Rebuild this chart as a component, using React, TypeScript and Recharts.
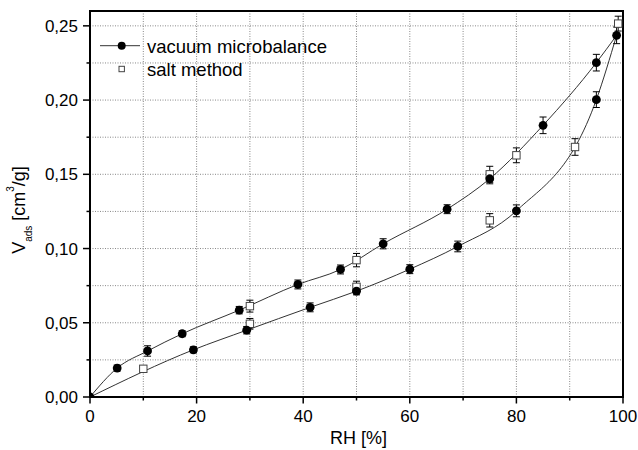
import React from 'react';
import { ComposedChart, XAxis, YAxis, CartesianGrid, Line, Scatter, ErrorBar, ReferenceArea, Legend } from 'recharts';

// Desorption branch (upper curve), vacuum microbalance
const upperRH = [0, 5.1, 10.8, 17.3, 28.0, 39.0, 47.0, 55.0, 67.0, 75.0, 85.0, 95.0, 98.8];
const upperV = [0, 0.0195, 0.031, 0.0426, 0.0585, 0.0758, 0.0859, 0.1032, 0.1265, 0.147, 0.183, 0.2252, 0.2436];
const upperErr = [0, 0.002, 0.0035, 0.002, 0.0025, 0.003, 0.003, 0.0034, 0.003, 0.0034, 0.0056, 0.0056, 0.0056];

// Adsorption branch (lower curve), vacuum microbalance
const lowerRH = [0, 19.4, 29.4, 41.3, 50.0, 60.0, 69.0, 80.0, 95.0, 98.8];
const lowerV = [0, 0.0318, 0.045, 0.0604, 0.0713, 0.0861, 0.1014, 0.1254, 0.2003, 0.2436];
const lowerErr = [0, 0.002, 0.0025, 0.003, 0.0025, 0.003, 0.0036, 0.004, 0.0053, 0.0056];

// Salt method
const saltRH = [10, 30, 30, 50, 50, 75, 75, 80, 91, 99.1];
const saltV = [0.019, 0.0612, 0.0493, 0.0922, 0.0742, 0.150, 0.119, 0.1628, 0.1684, 0.2515];
const saltErr = [0.002, 0.004, 0.0036, 0.0045, 0.0038, 0.0054, 0.0045, 0.005, 0.0056, 0.005];

const xTicks = [0, 10, 20, 30, 40, 50, 60, 70, 80, 90, 100];
const xMajor = [0, 20, 40, 60, 80, 100];
const yTicks = [0, 0.025, 0.05, 0.075, 0.1, 0.125, 0.15, 0.175, 0.2, 0.225, 0.25];
const yMajor = [0, 0.05, 0.1, 0.15, 0.2, 0.25];

const upperData = upperRH.map((x, i) => ({ x, y: upperV[i], err: upperErr[i] }));
const lowerData = lowerRH.map((x, i) => ({ x, y: lowerV[i], err: lowerErr[i] }));
const circleData = [...upperData, ...lowerData.slice(1, lowerData.length - 1)];
const saltData = saltRH.map((x, i) => ({ x, y: saltV[i], err: saltErr[i] }));

const FONT = '"Liberation Sans", Arial, sans-serif';
const PLOT_LEFT = 90;
const PLOT_BOTTOM = 397;

const isMajor = (v: number, list: number[]) => list.some((m) => Math.abs(m - v) < 1e-9);

const XTick = (props: any) => {
  const { payload } = props;
  const x = payload.coordinate;
  const major = isMajor(payload.value, xMajor);
  return (
    <g>
      <line x1={x} x2={x} y1={PLOT_BOTTOM} y2={PLOT_BOTTOM + (major ? 6.5 : 3.5)} stroke="#000" strokeWidth={1.5} />
      {major && (
        <text x={x} y={PLOT_BOTTOM + 25} textAnchor="middle" fontSize={17} fontFamily={FONT} fill="#000">
          {String(payload.value)}
        </text>
      )}
    </g>
  );
};

const YTick = (props: any) => {
  const { payload } = props;
  const y = payload.coordinate;
  const major = isMajor(payload.value, yMajor);
  return (
    <g>
      <line x1={PLOT_LEFT} x2={PLOT_LEFT - (major ? 7 : 3.5)} y1={y} y2={y} stroke="#000" strokeWidth={1.5} />
      {major && (
        <text x={78} y={y} dy="0.36em" textAnchor="end" fontSize={17} fontFamily={FONT} fill="#000">
          {payload.value.toFixed(2).replace('.', ',')}
        </text>
      )}
    </g>
  );
};

const Circle = (props: any) => <circle cx={props.cx} cy={props.cy} r={4.4} fill="#000" />;
const Square = (props: any) => (
  <rect x={props.cx - 3.7} y={props.cy - 3.7} width={7.4} height={7.4} fill="#fff" stroke="#444" strokeWidth={1} />
);

const YLabel = (props: any) => {
  const vb = props.viewBox || { x: 0, y: 11, width: 90, height: 386 };
  const cx = 25;
  const cy = vb.y + vb.height / 2 + 6;
  return (
    <text x={cx} y={cy} transform={`rotate(-90, ${cx}, ${cy})`} textAnchor="middle" fontSize={18} fontFamily={FONT} fill="#000">
      <tspan>V</tspan>
      <tspan dy={7} fontSize={10}>ads</tspan>
      <tspan dy={-7}> [cm</tspan>
      <tspan dy={-11} fontSize={10}>3</tspan>
      <tspan dy={11}>/g]</tspan>
    </text>
  );
};

const XLabel = (props: any) => {
  const vb = props.viewBox || { x: 90, y: 397, width: 533, height: 53 };
  return (
    <text x={vb.x + vb.width / 2 + 2} y={444} textAnchor="middle" fontSize={18} fontFamily={FONT} fill="#000">
      RH [%]
    </text>
  );
};

const LegendContent = () => (
  <svg width={260} height={60} style={{ display: 'block' }}>
    <line x1={10} x2={50} y1={15.7} y2={15.7} stroke="#333" strokeWidth={1} />
    <circle cx={31.7} cy={15.7} r={4} fill="#000" />
    <text x={57} y={22.5} fontSize={18.5} fontFamily={FONT} fill="#000">vacuum microbalance</text>
    <rect x={29} y={36.3} width={5.4} height={5.4} fill="#fff" stroke="#444" strokeWidth={1} />
    <text x={57} y={45.5} fontSize={18.5} fontFamily={FONT} fill="#000">salt method</text>
  </svg>
);

export default function App() {
  return (
    <div style={{ position: 'absolute', left: 0, top: 0, background: '#fff' }}>
      <ComposedChart width={638} height={450} margin={{ top: 11, right: 15, bottom: 0, left: 0 }} style={{ fontFamily: FONT }}>
        <CartesianGrid stroke="#888" strokeDasharray="1 1.5" strokeWidth={1} />
        <XAxis
          type="number"
          dataKey="x"
          domain={[0, 100]}
          ticks={xTicks}
          interval={0}
          height={53}
          tickLine={false}
          axisLine={{ stroke: '#000', strokeWidth: 2 }}
          tick={<XTick />}
          label={{ content: <XLabel /> }}
          allowDataOverflow
        />
        <YAxis
          type="number"
          dataKey="y"
          domain={[0, 0.26]}
          ticks={yTicks}
          interval={0}
          width={90}
          tickLine={false}
          axisLine={{ stroke: '#000', strokeWidth: 2 }}
          tick={<YTick />}
          label={{ content: <YLabel /> }}
          allowDataOverflow
        />
        <ReferenceArea x1={0} x2={100} y1={0} y2={0.26} fill="none" fillOpacity={0} stroke="#000" strokeWidth={2} />
        <Line data={upperData} dataKey="y" type="monotone" stroke="#333" strokeWidth={1} dot={false} isAnimationActive={false} legendType="none" />
        <Line data={lowerData} dataKey="y" type="monotone" stroke="#333" strokeWidth={1} dot={false} isAnimationActive={false} legendType="none" />
        <Scatter data={saltData} dataKey="y" shape={<Square />} isAnimationActive={false} name="salt method">
          <ErrorBar dataKey="err" direction="y" width={3.5} stroke="#000" strokeWidth={1} />
        </Scatter>
        <Scatter data={circleData} dataKey="y" shape={<Circle />} isAnimationActive={false} name="vacuum microbalance">
          <ErrorBar dataKey="err" direction="y" width={3.5} stroke="#000" strokeWidth={1} />
        </Scatter>
        <Legend
          layout="horizontal"
          verticalAlign="middle"
          align="center"
          content={<LegendContent />}
          wrapperStyle={{ left: 90, top: 30, width: 260, height: 60 }}
        />
      </ComposedChart>
    </div>
  );
}
